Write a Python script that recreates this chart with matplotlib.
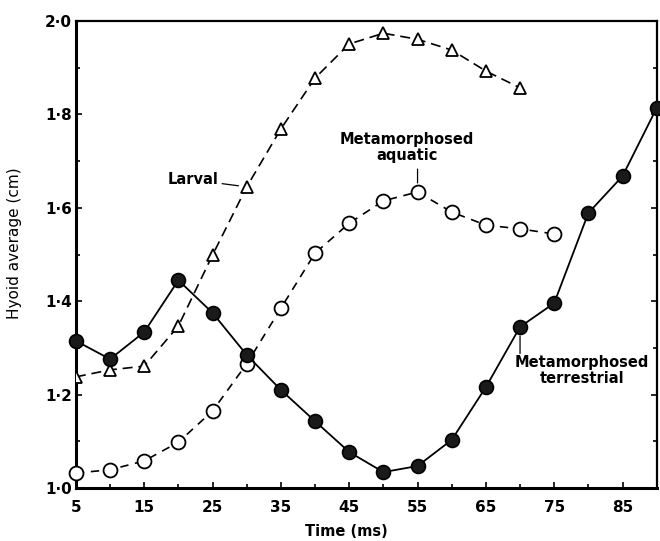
import matplotlib
matplotlib.use("Agg")
import matplotlib.pyplot as plt
from matplotlib.ticker import MultipleLocator, FixedLocator

plt.rcParams['font.family'] = ['DejaVu Sans']

time_terr = [5, 10, 15, 20, 25, 30, 35, 40, 45, 50, 55, 60, 65, 70, 75, 80, 85, 90]
terrestrial = [1.315, 1.276, 1.334, 1.445, 1.375, 1.285, 1.21, 1.143, 1.077, 1.034,
               1.047, 1.103, 1.216, 1.345, 1.396, 1.589, 1.668, 1.814]

time_larv = [5, 10, 15, 20, 25, 30, 35, 40, 45, 50, 55, 60, 65, 70]
larval = [1.238, 1.253, 1.261, 1.347, 1.499, 1.645, 1.769, 1.878, 1.951, 1.974,
          1.961, 1.938, 1.893, 1.857]

time_aqua = [5, 10, 15, 20, 25, 30, 35, 40, 45, 50, 55, 60, 65, 70, 75]
aquatic = [1.032, 1.039, 1.058, 1.098, 1.165, 1.266, 1.385, 1.503, 1.567, 1.615,
           1.634, 1.591, 1.563, 1.555, 1.544]

xticks = [5, 15, 25, 35, 45, 55, 65, 75, 85]
yticks = [1.0, 1.2, 1.4, 1.6, 1.8, 2.0]
ytick_labels = ['1·0', '1·2', '1·4', '1·6', '1·8', '2·0']

fig = plt.figure(figsize=(6.6, 5.41), dpi=100)
ax = fig.add_axes([0.115, 0.098, 0.88, 0.863])

ax.plot(time_larv, larval, linestyle=(0, (6, 3.5)), color='black', lw=1.2,
        marker='^', markersize=8.5, markerfacecolor='white', markeredgecolor='black',
        markeredgewidth=1.3, zorder=3)
ax.plot(time_aqua, aquatic, linestyle=(0, (5, 4)), color='black', lw=1.2,
        marker='o', markersize=10, markerfacecolor='white', markeredgecolor='black',
        markeredgewidth=1.3, zorder=3, clip_on=False)
ax.plot(time_terr, terrestrial, linestyle='-', color='black', lw=1.3,
        marker='o', markersize=10, markerfacecolor='#1a1a1a', markeredgecolor='black',
        markeredgewidth=1.2, zorder=4, clip_on=False)

ax.set_xlim(5, 90)
ax.set_ylim(1.0, 2.0)
ax.xaxis.set_major_locator(FixedLocator(xticks))
ax.xaxis.set_minor_locator(MultipleLocator(5))
ax.yaxis.set_major_locator(FixedLocator(yticks))
ax.set_yticklabels(ytick_labels)
ax.yaxis.set_minor_locator(MultipleLocator(0.1))
ax.tick_params(which='both', direction='in', top=False, right=True,
               labelsize=11, width=1.2)
ax.tick_params(axis='x', which='both', pad=9)
ax.tick_params(axis='y', which='both', pad=3)
ax.tick_params(which='major', length=4)
ax.tick_params(which='minor', length=3)
for lab in ax.get_xticklabels() + ax.get_yticklabels():
    lab.set_fontweight('bold')
for name, s in ax.spines.items():
    s.set_linewidth(2.2 if name in ('left', 'bottom') else 1.6)

ax.set_xlabel('Time (ms)', fontsize=10.5, fontweight='bold')
ax.xaxis.set_label_coords(0.466, -0.077)
ax.set_ylabel('Hyoid average (cm)', fontsize=11)
ax.yaxis.set_label_coords(-0.093, 0.525)

afont = dict(fontsize=10.5, fontweight='bold')
ax.annotate('Larval', xy=(30, 1.645), xytext=(25.8, 1.66), ha='right', va='center',
            arrowprops=dict(arrowstyle='-', color='black', lw=0.9, shrinkA=1, shrinkB=6),
            **afont)
ax.text(53.4, 1.762, 'Metamorphosed\naquatic', ha='center', va='top',
        linespacing=1.05, **afont)
ax.annotate('', xy=(55, 1.634), xytext=(55, 1.683),
            arrowprops=dict(arrowstyle='-', color='black', lw=0.9, shrinkA=0, shrinkB=6.5))
ax.text(79.1, 1.285, 'Metamorphosed\nterrestrial', ha='center', va='top',
        linespacing=1.05, **afont)
ax.annotate('', xy=(70, 1.345), xytext=(70, 1.288),
            arrowprops=dict(arrowstyle='-', color='black', lw=0.9, shrinkA=0, shrinkB=6.5))

fig.savefig('out.png', dpi=100)
